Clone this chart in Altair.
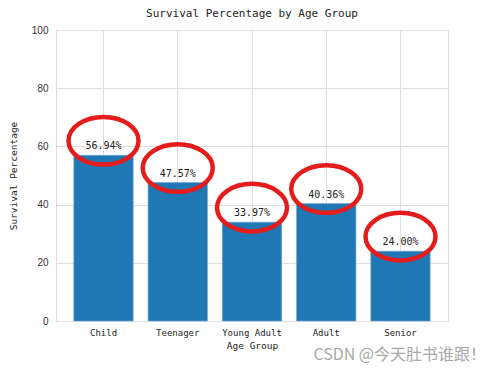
import altair as alt
import pandas as pd

categories = ["Child", "Teenager", "Young Adult", "Adult", "Senior"]
survival = [56.94, 47.57, 33.97, 40.36, 24.00]

df = pd.DataFrame({"group": categories, "pct": survival})
df["label"] = [f"{v:.2f}%" for v in survival]
df["ring"] = df["pct"] + 5

MONO = "DejaVu Sans Mono"

x_enc = alt.X(
    "group:N",
    sort=categories,
    title="Age Group",
    scale=alt.Scale(paddingInner=0.2, paddingOuter=0.24),
    axis=alt.Axis(
        labelAngle=0, grid=True, gridColor="#dedede", domain=False, ticks=False,
        labelPadding=7, labelFont=MONO, labelFontSize=9, labelColor="#222222",
        titleFont=MONO, titleFontSize=9.5, titleFontWeight="normal", titleColor="#222222",
        titlePadding=3,
    ),
)
y_scale = alt.Scale(domain=[0, 100])
y_axis = alt.Axis(
    values=[0, 20, 40, 60, 80, 100], grid=True, gridColor="#dedede", domain=False,
    ticks=False, labelPadding=8, labelFont="Liberation Sans", labelFontSize=10,
    labelColor="#333333", title="Survival Percentage", titleFont=MONO,
    titleFontSize=9.5, titleFontWeight="normal", titleColor="#222222", titlePadding=13,
)

bars = alt.Chart(df).mark_bar(color="#1f77b4", stroke="#6fa8d6", strokeWidth=0.6).encode(
    x=x_enc,
    y=alt.Y("pct:Q", scale=y_scale, axis=y_axis),
)

labels = alt.Chart(df).mark_text(
    dy=-9, font=MONO, fontSize=10, color="#222222", baseline="middle"
).encode(
    x=alt.X("group:N", sort=categories),
    y=alt.Y("pct:Q", scale=y_scale),
    text="label:N",
)

rings = alt.Chart(df).mark_point(
    shape="M-1,0 A1,0.68 0 1,0 1,0 A1,0.68 0 1,0 -1,0",
    filled=False, stroke="#e41c1c", strokeWidth=4.5, size=4900, opacity=1,
).encode(
    x=alt.X("group:N", sort=categories),
    y=alt.Y("ring:Q", scale=y_scale),
)

watermark = alt.Chart(pd.DataFrame({"t": ["CSDN @今天肚书谁跟！"]})).mark_text(
    font="Noto Sans CJK SC", fontSize=16, color="#a8a8a8",
    align="right", baseline="middle",
).encode(
    x=alt.value(430), y=alt.value(325), text="t:N"
)

chart = alt.layer(bars, labels, rings, watermark).properties(
    width=392, height=291,
    title=alt.TitleParams(
        "Survival Percentage by Age Group", font=MONO, fontSize=11,
        fontWeight="normal", color="#222222", offset=6,
    ),
    autosize=alt.AutoSizeParams(type="none"),
    padding={"left": 48, "top": 22, "right": 42, "bottom": 50},
).configure_view(stroke="#d0d0d0", strokeWidth=1).configure(background="white")

chart.save("out.html", embed_options={"renderer": "svg", "actions": False})
